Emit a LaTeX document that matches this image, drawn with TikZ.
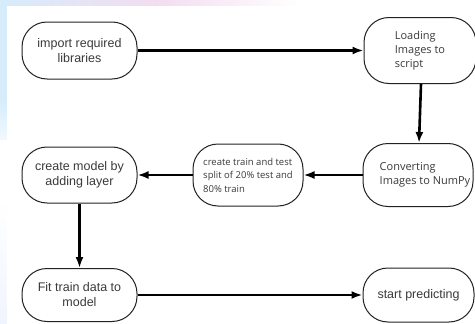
\documentclass[tikz,border=0pt]{standalone}
\usepackage{fontspec}
\setmainfont{Liberation Sans}
\newfontfamily\osans{Open Sans}
\usetikzlibrary{arrows.meta}
\definecolor{txt}{HTML}{3A3A3A}
\definecolor{edge}{HTML}{222222}
\definecolor{sideblue}{HTML}{D6ECFB}
\definecolor{toppink}{HTML}{F3DDF0}
\tikzset{
  stadium/.style={draw=edge, line width=1pt, fill=white, rounded corners=25pt,
    inner sep=0pt, text=txt, align=center},
  arialtxt/.style={font=\fontsize{12.5}{15}\selectfont},
  opentxt/.style={font=\osans\fontsize{11}{14}\selectfont},
  flow/.style={draw=black, line width=2.6pt, -{Latex[length=11pt,width=8pt]}},
}
\begin{document}
\begin{tikzpicture}[x=1pt,y=-1pt]
\useasboundingbox (0,0) rectangle (475,324);
% background
\fill[sideblue] (0,0) rectangle (475,324);
\shade[left color=sideblue, right color=toppink] (0,0) rectangle (160,6);
\shade[left color=toppink, right color=white] (160,0) rectangle (300,6);
\fill[white] (300,0) rectangle (475,6);
\shade[top color=sideblue, bottom color=white] (0,100) rectangle (7,160);
\fill[white] (0,140) rectangle (7,200);
\shade[top color=white, bottom color=sideblue!85!blue!20] (0,200) rectangle (7,324);
\fill[white] (7,6) rectangle (475,324);
% nodes
\node[stadium, arialtxt, minimum width=115pt, minimum height=57pt] (n1) at (79.5,50.5) {import required\\libraries};
\node[stadium, opentxt, align=left, minimum width=112pt, minimum height=66pt] (n2) at (420,50.5) {Loading\\Images to\\script};
\node[stadium, minimum width=110pt, minimum height=63pt,
  label={[opentxt, text=txt, align=left, xshift=7pt, inner sep=0pt]center:Converting\\Images to NumPy}] (n3) at (418,175) {};
\node[stadium, align=left, minimum width=110pt, minimum height=62pt,
  font=\osans\fontsize{9.5}{13.5}\selectfont] (n4) at (248,175) {create train and test\\split of 20\% test and\\80\% train};
\node[stadium, arialtxt, minimum width=115pt, minimum height=56pt] (n5) at (79.5,175) {create model by\\adding layer};
\node[stadium, arialtxt, minimum width=115pt, minimum height=53pt] (n6) at (79.5,295) {Fit train data to\\model};
\node[stadium, arialtxt, minimum width=111pt, minimum height=54pt] (n7) at (418.5,295) {start predicting};
% connectors
\draw[flow] (n1.east) -- (n2.west);
\draw[flow] ([xshift=1pt]n2.south) -- ([xshift=1pt]n3.north);
\draw[flow] (n3.west) -- (n4.east);
\draw[flow] (n4.west) -- (n5.east);
\draw[flow] (n5.south) -- (n6.north);
\draw[flow] (n6.east) -- (n7.west);
\end{tikzpicture}
\end{document}
